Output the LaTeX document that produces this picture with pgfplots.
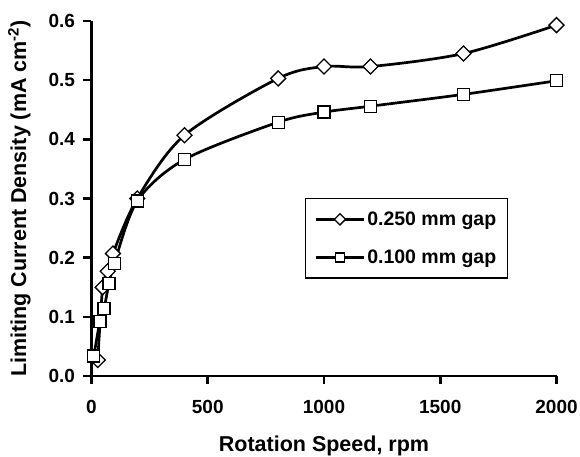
\documentclass[border=0pt]{standalone}
\usepackage{pgfplots}
\pgfplotsset{compat=1.18}
\usepackage{fontspec}
\setmainfont{Liberation Sans}
\begin{document}
\begin{tikzpicture}
\useasboundingbox (-91.5pt,-80pt) rectangle (488.5pt,376pt);
\begin{axis}[
  at={(0pt,0pt)}, anchor=south west,
  scale only axis, width=465pt, height=355pt,
  xmin=0, xmax=2000, ymin=0, ymax=0.6,
  axis lines*=left,
  axis line style={line width=2.8pt, -},
  xtick={0,500,1000,1500,2000},
  ytick={0,0.1,0.2,0.3,0.4,0.5,0.6},
  tick align=outside,
  major tick length=8pt,
  every tick/.style={line width=2.6pt, black},
  /pgf/number format/assume math mode=true,
  /pgf/number format/1000 sep={},
  yticklabel style={/pgf/number format/fixed, /pgf/number format/fixed zerofill, /pgf/number format/precision=1,
    font=\bfseries\fontsize{19}{19}\selectfont, xshift=-5pt},
  xticklabel style={font=\bfseries\fontsize{19}{19}\selectfont, yshift=-13pt},
  scaled y ticks=false,
  xlabel={Rotation Speed, rpm},
  ylabel={Limiting Current Density (mA cm\textsuperscript{-2})},
  label style={font=\bfseries\fontsize{21.5}{22}\selectfont},
  xlabel style={yshift=-15pt},
  ylabel style={yshift=11pt},
  legend style={at={(rel axis cs:0.459,0.501)}, anchor=north west,
    draw=black, line width=1.3pt, font=\bfseries\fontsize{19.5}{20}\selectfont,
    cells={anchor=west}, row sep=19pt, inner xsep=9pt, inner ysep=11pt},
  legend image code/.code={
    \draw[#1, every mark/.append style={scale=0.75}, mark repeat=2, mark phase=2]
      plot coordinates {(0pt,0pt) (24pt,0pt) (48pt,0pt)};
  },
  clip=false,
]
\addplot[black, line width=2.7pt, smooth, mark=square*, mark size=5.3pt,
  mark options={rotate=45, fill=white, line width=1.3pt, solid}]
  coordinates {
  (27,0.027) (48,0.150) (70,0.177) (92,0.207) (197,0.300) (400,0.407)
  (803,0.503) (1000,0.523) (1200,0.523) (1600,0.545) (2000,0.593)
  };
\addlegendentry{0.250 mm gap}
\addplot[black, line width=2.7pt, smooth, mark=square*, mark size=6pt,
  mark options={fill=white, line width=1.3pt, solid}]
  coordinates {
  (10,0.034) (36,0.092) (54,0.114) (75,0.156) (98,0.190) (197,0.296)
  (400,0.366) (803,0.429) (1000,0.446) (1200,0.456) (1600,0.476) (2000,0.499)
  };
\addlegendentry{0.100 mm gap}
\end{axis}
\end{tikzpicture}
\end{document}
